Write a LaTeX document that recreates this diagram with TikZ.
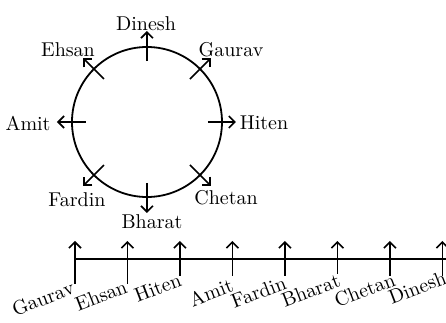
\documentclass[tikz,border=0pt]{standalone}
\usetikzlibrary{arrows.meta,positioning}
\tikzset{
  arr/.style={line width=0.8pt,-{Straight Barb[length=3pt,width=6pt]}},
  slantname/.style={anchor=base east,inner sep=0pt,rotate=21},
}
\begin{document}
\begin{tikzpicture}[scale=0.0175726, line join=round]
    \useasboundingbox (0,0) rectangle (446,-322);

    % 1. 圆桌及其圆心
    \coordinate (O) at (147,-122);
    \draw[line width=0.9pt] (O) circle (75);

    % 2. 八个箭头的内端与外端
    \coordinate (dI) at (147,-61);  \coordinate (dO) at (147,-31);
    \coordinate (gI) at (190,-79);  \coordinate (gO) at (211,-58);
    \coordinate (hI) at (208,-122); \coordinate (hO) at (236,-122);
    \coordinate (cI) at (190,-165); \coordinate (cO) at (211,-186);
    \coordinate (bI) at (147,-183); \coordinate (bO) at (147,-213);
    \coordinate (fI) at (104,-165); \coordinate (fO) at (83,-186);
    \coordinate (aI) at (86,-122);  \coordinate (aO) at (57,-122);
    \coordinate (eI) at (104,-79);  \coordinate (eO) at (83,-58);

    % 3. 绘制朝向箭头
    \draw[arr] (dI) -- (dO);
    \draw[arr] (gI) -- (gO);
    \draw[arr] (hI) -- (hO);
    \draw[arr] (cI) -- (cO);
    \draw[arr] (bI) -- (bO);
    \draw[arr] (fI) -- (fO);
    \draw[arr] (aI) -- (aO);
    \draw[arr] (eI) -- (eO);

    % 4. 标注姓名
    \node (dinesh) at (146,-24) {Dinesh};
    \node (gaurav) at (231,-50) {Gaurav};
    \node (hiten) at (264,-123) {Hiten};
    \node (chetan) at (226,-198) {Chetan};
    \node (bharat) at (152,-222) {Bharat};
    \node (fardin) at (77,-200) {Fardin};
    \node (amit) at (28,-123) {Amit};
    \node (ehsan) at (68,-50) {Ehsan};

    % 5. 直线排列（箭头的下端与上端）
    \coordinate (q1b) at (75,-284);    \coordinate (q1t) at (75,-241);
    \coordinate (q2b) at (127.5,-284); \coordinate (q2t) at (127.5,-241);
    \coordinate (q3b) at (180,-276);   \coordinate (q3t) at (180,-241);
    \coordinate (q4b) at (232.5,-276); \coordinate (q4t) at (232.5,-241);
    \coordinate (q5b) at (285,-276);   \coordinate (q5t) at (285,-241);
    \coordinate (q6b) at (337.5,-274); \coordinate (q6t) at (337.5,-241);
    \coordinate (q7b) at (390,-276);   \coordinate (q7t) at (390,-241);
    \coordinate (q8b) at (442.5,-276); \coordinate (q8t) at (442.5,-241);
    \coordinate (qL) at (75,-259);
    \coordinate (qR) at (446,-259);
    \draw[line width=0.9pt] (qL) -- (qR);

    \draw[arr] (q1b) -- (q1t);
    \draw[arr] (q2b) -- (q2t);
    \draw[arr] (q3b) -- (q3t);
    \draw[arr] (q4b) -- (q4t);
    \draw[arr] (q5b) -- (q5t);
    \draw[arr] (q6b) -- (q6t);
    \draw[arr] (q7b) -- (q7t);
    \draw[arr] (q8b) -- (q8t);

    % 6. 斜排姓名
    \node[slantname] (gaurav2) at (76,-293) {Gaurav};
    \node[slantname] (ehsan2) at (129,-292) {Ehsan};
    \node[slantname] (hiten2) at (183,-285) {Hiten};
    \node[slantname] (amit2) at (235,-291) {Amit};
    \node[slantname] (fardin2) at (288,-288) {Fardin};
    \node[slantname] (bharat2) at (342,-286) {Bharat};
    \node[slantname] (chetan2) at (397,-285) {Chetan};
    \node[slantname] (dinesh2) at (448,-283) {Dinesh};

\end{tikzpicture}
\end{document}
